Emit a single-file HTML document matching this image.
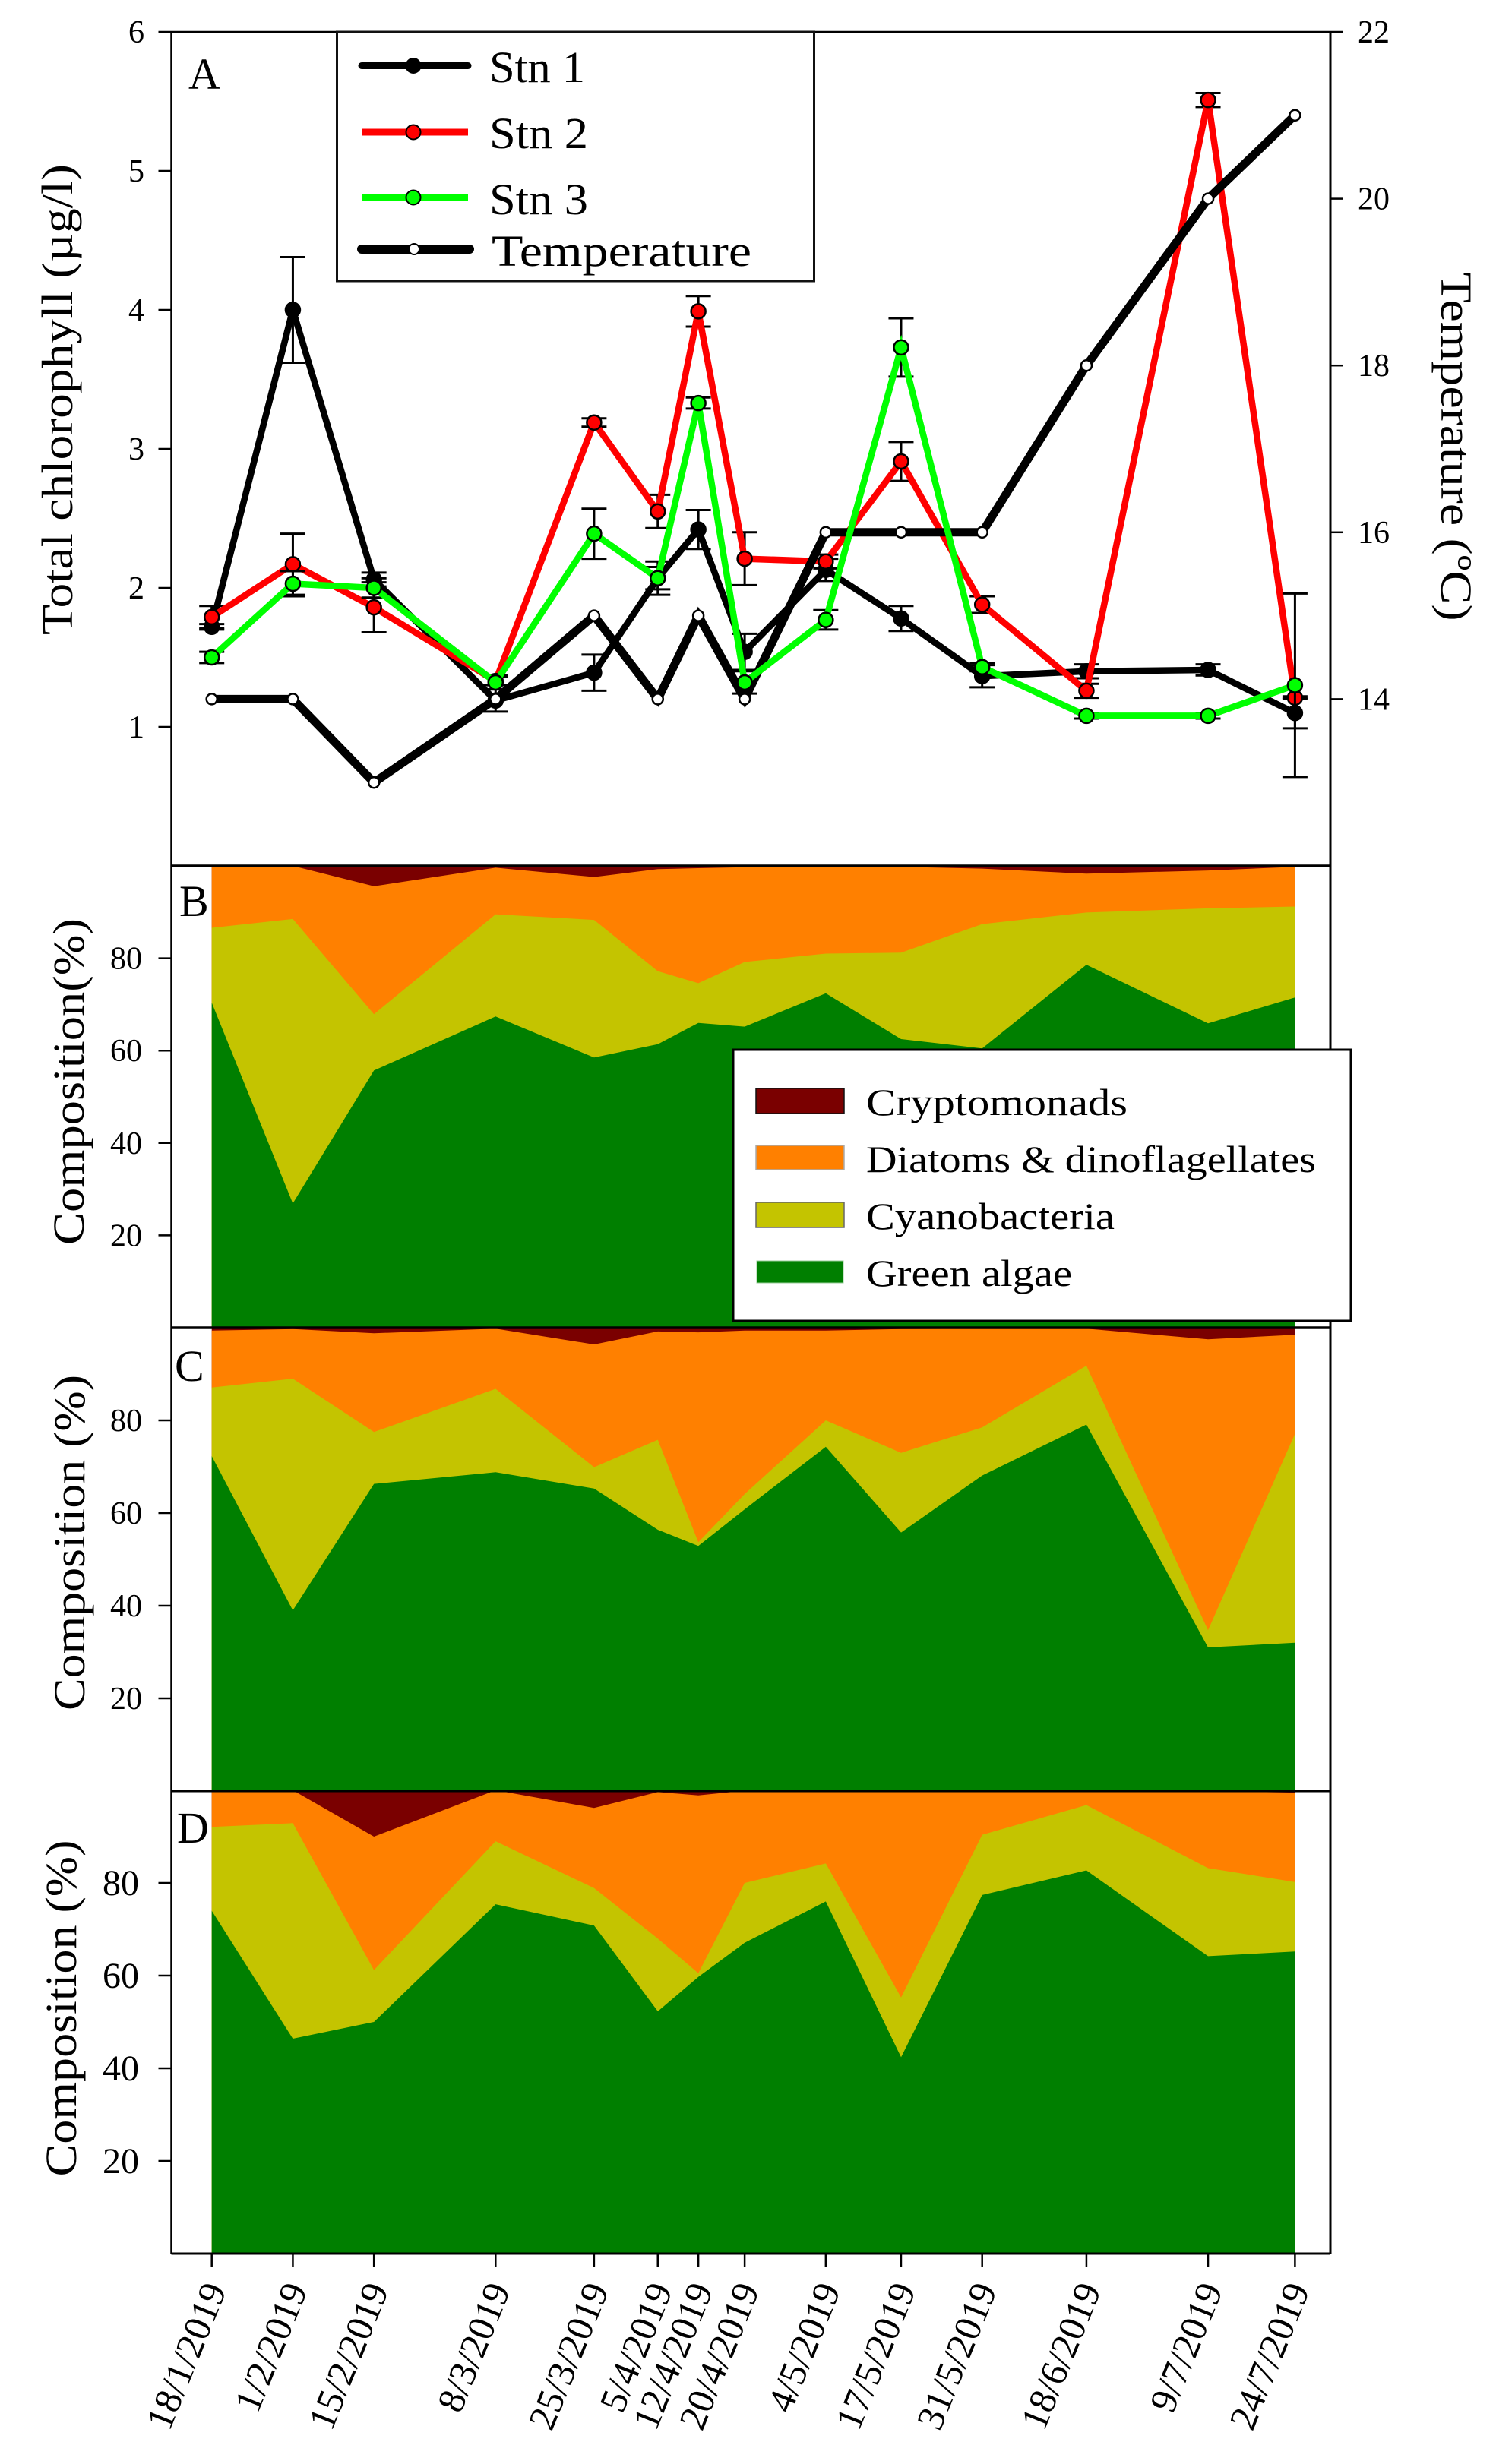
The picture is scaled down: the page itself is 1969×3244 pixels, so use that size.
<!DOCTYPE html>
<html lang="en">
<head>
<meta charset="utf-8">
<title>Chlorophyll and phytoplankton composition</title>
<style>
html,body{margin:0;padding:0;background:#fff;}
svg{display:block;}
text{font-family:"Liberation Serif","DejaVu Serif",serif;fill:#000;}
</style>
</head>
<body>
<svg id="chart" xmlns="http://www.w3.org/2000/svg" width="1969" height="3244" viewBox="0 0 1969 3244">
  <rect x="0" y="0" width="1969" height="3244" fill="#fff"/>
  <g id="layers"></g>

  <text transform="translate(95,526) rotate(-90)" text-anchor="middle" font-size="58" textLength="620" lengthAdjust="spacingAndGlyphs">Total chlorophyll (µg/l)</text>
  <text transform="translate(1897,588) rotate(90)" text-anchor="middle" font-size="58" textLength="459" lengthAdjust="spacingAndGlyphs">Temperature (ºC)</text>
  <text transform="translate(110,1424) rotate(-90)" text-anchor="middle" font-size="58" textLength="430" lengthAdjust="spacingAndGlyphs">Composition(%)</text>
  <text transform="translate(111,2031) rotate(-90)" text-anchor="middle" font-size="58" textLength="442" lengthAdjust="spacingAndGlyphs">Composition (%)</text>
  <text transform="translate(100,2644) rotate(-90)" text-anchor="middle" font-size="58" textLength="443" lengthAdjust="spacingAndGlyphs">Composition (%)</text>

  <text x="248" y="117" font-size="58">A</text>
  <text x="236" y="1206" font-size="58">B</text>
  <text x="230" y="1818" font-size="58">C</text>
  <text x="233" y="2426" font-size="58">D</text>

  <g>
    <rect x="443.5" y="42" width="628" height="328" fill="#fff" stroke="#111" stroke-width="3"/>
    <line x1="476" y1="86.5" x2="616" y2="86.5" stroke="#000" stroke-width="9" stroke-linecap="round"/>
    <circle cx="544" cy="86.5" r="9.5" fill="#000" stroke="#000" stroke-width="2"/>
    <text x="644" y="108" font-size="58" textLength="126" lengthAdjust="spacingAndGlyphs">Stn 1</text>
    <line x1="476" y1="174" x2="616" y2="174" stroke="#f00" stroke-width="9"/>
    <circle cx="544" cy="174" r="9.5" fill="#f00" stroke="#000" stroke-width="2"/>
    <text x="644" y="195" font-size="58" textLength="130" lengthAdjust="spacingAndGlyphs">Stn 2</text>
    <line x1="476" y1="260" x2="616" y2="260" stroke="#0f0" stroke-width="9"/>
    <circle cx="544" cy="260" r="9.5" fill="#0f0" stroke="#000" stroke-width="2"/>
    <text x="644" y="282" font-size="58" textLength="130" lengthAdjust="spacingAndGlyphs">Stn 3</text>
    <line x1="476" y1="328" x2="618" y2="328" stroke="#000" stroke-width="12" stroke-linecap="round"/>
    <circle cx="545" cy="328" r="7" fill="#fff" stroke="#000" stroke-width="2"/>
    <text x="647" y="350" font-size="58" textLength="342" lengthAdjust="spacingAndGlyphs">Temperature</text>
  </g>

  <g>
    <rect x="965" y="1382" width="813" height="357" fill="#fff" stroke="#000" stroke-width="3"/>
    <rect x="995" y="1433" width="116" height="33" fill="#7a0000" stroke="#111" stroke-width="1.5"/>
    <text x="1140" y="1468" font-size="50" textLength="344" lengthAdjust="spacingAndGlyphs">Cryptomonads</text>
    <rect x="995" y="1508" width="116" height="32" fill="#ff8000" stroke="#aaa" stroke-width="1.5"/>
    <text x="1140" y="1543" font-size="50" textLength="592" lengthAdjust="spacingAndGlyphs">Diatoms &amp; dinoflagellates</text>
    <rect x="995" y="1583" width="116" height="33" fill="#c4c400" stroke="#666" stroke-width="1.5"/>
    <text x="1140" y="1618" font-size="50" textLength="327" lengthAdjust="spacingAndGlyphs">Cyanobacteria</text>
    <rect x="996" y="1660" width="114" height="29" fill="#007f00" stroke="#9c9" stroke-width="1"/>
    <text x="1140" y="1693" font-size="50" textLength="271" lengthAdjust="spacingAndGlyphs">Green algae</text>
  </g>
</svg>

<script>
// ---------- data ----------
const dates = ['18/1/2019','1/2/2019','15/2/2019','8/3/2019','25/3/2019','5/4/2019','12/4/2019','20/4/2019','4/5/2019','17/5/2019','31/5/2019','18/6/2019','9/7/2019','24/7/2019'];

const stn1 = [1.72,4.00,2.06,1.19,1.39,2.07,2.42,1.54,2.13,1.78,1.365,1.40,1.41,1.10];
const stn2 = [1.79,2.17,1.86,1.33,3.19,2.55,3.99,2.21,2.19,2.91,1.88,1.26,5.51,1.21];
const stn3 = [1.50,2.03,2.00,1.32,2.39,2.07,3.33,1.32,1.77,3.73,1.43,1.08,1.08,1.30];
const temperature = [14,14,13,14,15,14,15,14,16,16,16,18,20,21];

const stn1Err = [0.02,0.38,0.05,0.08,0.13,0.08,0.14,0.13,0.08,0.09,0.08,0.05,0.04,0.11];
const stn2Err = [0.08,0.22,0.18,0.03,0.03,0.12,0.11,0.19,0.05,0.14,0.06,0.05,0.05,0.01];
const stn3Err = [0.04,0.09,0.07,0.05,0.18,0.12,0.04,0.08,0.07,0.21,0.03,0.02,0.02,0.66];

const chlTicks = [1,2,3,4,5,6];
const tempTicks = [14,16,18,20,22];
const compTicks = [20,40,60,80];

const greenB  = [70.4,26.9,55.7,67.4,58.5,61.4,66,65.2,72.4,62.5,60.5,78.6,65.9,71.5];
const cyanoB  = [16.2,61.6,12.2,22.1,29.8,15.8,8.6,14,8.6,18.7,26.9,11.3,24.9,19.7];
const diatomB = [13.4,11.5,27.7,10.1,9.3,22.1,24.9,20.5,18.8,18.6,12,8.4,8.2,8.6];
const cryptoB = [0,0,4.4,0.4,2.4,0.7,0.5,0.3,0.2,0.2,0.6,1.7,1,0.2];

const greenC  = [72.3,39,66.3,68.8,65.3,56.4,52.9,60.8,74.3,55.8,68.1,79.1,31,32];
const cyanoC  = [14.8,50,11.2,18,4.6,19.4,0.8,3.3,5.7,17.2,10.4,12.7,3.7,45.1];
const diatomC = [12.3,10.7,21.3,13,26.5,23.4,45.3,35.3,19.4,26.7,21.3,8,62.8,21.4];
const cryptoC = [0.6,0.3,1.2,0.2,3.6,0.8,1,0.6,0.6,0.3,0.2,0.2,2.5,1.5];

const greenD  = [74,46.4,50,75.4,70.8,52.3,59.7,67.1,76,42.4,77.4,82.7,64.2,65.2];
const cyanoD  = [18.1,46.5,11.2,13.6,8.1,15.7,0.8,12.9,8.2,12.9,13,14.1,19,15];
const diatomD = [7.9,7.1,28.8,11,17.3,31.6,38.4,19.9,15.7,44.5,9.5,3.1,16.6,19.3];
const cryptoD = [0,0,10,0,3.8,0.4,1.1,0.1,0.1,0.2,0.1,0.1,0.2,0.5];

// ---------- axis functions ----------
const NS = 'http://www.w3.org/2000/svg';
const layers = document.getElementById('layers');
const LEFT = 225.5, RIGHT = 1751, TOP_A = 42, BOT_A = 1140;

function dayOf(s){
  const p = s.split('/');
  return Date.UTC(+p[2], +p[1]-1, +p[0]) / 86400000;
}
const day0 = dayOf(dates[0]);
const dayN = dayOf(dates[dates.length-1]);
function xScale(s){ return 278.7 + (dayOf(s)-day0) * (1704.4-278.7) / (dayN-day0); }
function yChl(v){ return BOT_A - v * (BOT_A-TOP_A) / 6; }
function yTemp(v){ return BOT_A - (v-12) * (BOT_A-TOP_A) / 10; }
function yB(v){ return 1748 - v * 6.08; }
function yC(v){ return 2358 - v * 6.10; }
function yD(v){ return 2967 - v * 6.10; }

function make(tag, attrs, parent){
  const e = document.createElementNS(NS, tag);
  for (const k in attrs) e.setAttribute(k, attrs[k]);
  (parent || layers).appendChild(e);
  return e;
}

// ---------- stacked composition panels ----------
function drawStack(panel, yFn, bottom, series){
  const g = make('g', {});
  
  
  const names = ['cryptomonads','diatoms','cyanobacteria','green-algae'];
  const fills = ['#7a0000','#ff8000','#c4c400','#007f00'];
  // series order: green, cyano, diatoms, crypto ; draw tallest cumulative first
  names.forEach(function(name, idx){
    const depth = 3 - idx;
    const pts = dates.map(function(d, i){
      let total = 0;
      for (let s = 0; s <= depth; s++) total += series[s][i];
      return xScale(d).toFixed(1) + ',' + yFn(total).toFixed(1);
    });
    const first = xScale(dates[0]).toFixed(1), last = xScale(dates[dates.length-1]).toFixed(1);
    const poly = make('polygon', {
      points: first + ',' + bottom + ' ' + pts.join(' ') + ' ' + last + ',' + bottom,
      fill: fills[idx]
    }, g);
    
    
  });
  compTicks.forEach(function(t){
    const y = yFn(t);
    const tick = make('line', {x1: LEFT-17, x2: LEFT, y1: y, y2: y, stroke: '#000', 'stroke-width': 2.5}, g);
    
    
    const label = make('text', {x: panel === 'd' ? 183 : 187, y: y + (panel === 'd' ? 16 : 14), 'text-anchor': 'end', 'font-size': panel === 'd' ? 48 : 42}, g);
    label.textContent = t;
    
    
  });
}
drawStack('b', yB, 1748, [greenB, cyanoB, diatomB, cryptoB]);
drawStack('c', yC, 2358, [greenC, cyanoC, diatomC, cryptoC]);
drawStack('d', yD, 2967, [greenD, cyanoD, diatomD, cryptoD]);

// ---------- frame ----------
[[LEFT,TOP_A,LEFT,2967,2.5],[RIGHT,TOP_A,RIGHT,2967,3],[LEFT,TOP_A,RIGHT,TOP_A,2.5],
 [LEFT,BOT_A,RIGHT,BOT_A,3.5],[LEFT,1748,RIGHT,1748,3.5],[LEFT,2358,RIGHT,2358,3],[LEFT,2967,RIGHT,2967,3]
].forEach(function(c, i){
  const f = make('line', {x1: c[0], y1: c[1], x2: c[2], y2: c[3], stroke: '#000', 'stroke-width': c[4]});
  
  
});

// ---------- x axis ----------
dates.forEach(function(d){
  const x = xScale(d);
  const tick = make('line', {x1: x, x2: x, y1: 2967, y2: 2985, stroke: '#000', 'stroke-width': 2.5});
  
  
  const label = make('text', {transform: 'translate(' + (x+20).toFixed(1) + ',3014) rotate(-68)', 'text-anchor': 'end', 'font-size': 50});
  label.textContent = d;
  
  
});

// ---------- panel A axes ----------
chlTicks.forEach(function(t){
  const y = yChl(t);
  const tick = make('line', {x1: LEFT-17, x2: LEFT, y1: y, y2: y, stroke: '#000', 'stroke-width': 2.5});
  
  
  const label = make('text', {x: 190, y: y+14, 'text-anchor': 'end', 'font-size': 42});
  label.textContent = t;
  
  
});
tempTicks.forEach(function(t){
  const y = yTemp(t);
  const tick = make('line', {x1: RIGHT, x2: RIGHT+16, y1: y, y2: y, stroke: '#000', 'stroke-width': 2.5});
  
  
  const label = make('text', {x: 1787, y: y+14, 'font-size': 42});
  label.textContent = t;
  
  
});

// ---------- panel A series ----------
function linePoints(vals, yFn){
  return dates.map(function(d, i){ return xScale(d).toFixed(1) + ',' + yFn(vals[i]).toFixed(1); }).join(' ');
}
function drawStation(name, vals, errs, color){
  const g = make('g', {});
  
  
  dates.forEach(function(d, i){
    const x = xScale(d), hi = yChl(vals[i]+errs[i]), lo = yChl(vals[i]-errs[i]);
    const eb = make('path', {
      d: 'M' + x + ' ' + hi + 'V' + lo + 'M' + (x-16.5) + ' ' + hi + 'H' + (x+16.5) + 'M' + (x-16.5) + ' ' + lo + 'H' + (x+16.5),
      stroke: '#000', 'stroke-width': 3, fill: 'none'
    }, g);
    
    
  });
  const line = make('polyline', {points: linePoints(vals, yChl), fill: 'none', stroke: color, 'stroke-width': 8.5, 'stroke-linejoin': 'miter'}, g);
  
  
  dates.forEach(function(d, i){
    const c = make('circle', {cx: xScale(d), cy: yChl(vals[i]), r: 9.5, fill: color, stroke: '#000', 'stroke-width': 2.5}, g);
    
    
  });
}
drawStation('stn-1', stn1, stn1Err, '#000');
drawStation('stn-2', stn2, stn2Err, '#f00');

const tempLine = make('polyline', {points: linePoints(temperature, yTemp), fill: 'none', stroke: '#000', 'stroke-width': 11});



drawStation('stn-3', stn3, stn3Err, '#0f0');

dates.forEach(function(d, i){
  const c = make('circle', {cx: xScale(d), cy: yTemp(temperature[i]), r: 7, fill: '#fff', stroke: '#000', 'stroke-width': 2.5});
  
  
});
</script>
</body>
</html>
